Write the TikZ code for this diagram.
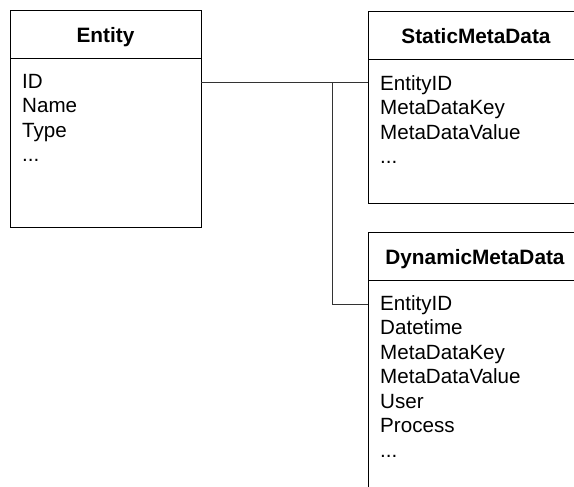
\documentclass[tikz,border=0pt]{standalone}
\usepackage{fontspec}
\setmainfont{Liberation Sans}
\usetikzlibrary{positioning}

\begin{document}
\begin{tikzpicture}[x=1pt, y=-1pt,
        headbox/.style={draw, line width=1pt, outer sep=0pt, inner sep=0pt, minimum height=48pt,
            font=\fontsize{20.8}{24.5}\selectfont\bfseries, text height=16pt, text depth=0pt},
        bodybox/.style={draw, line width=1pt, outer sep=0pt, inner sep=0pt},
        fields/.style={align=left, inner sep=0pt, font=\fontsize{20.6}{24.5}\selectfont},
        link/.style={draw=black!80, line width=1pt}]
    \useasboundingbox (0,0) rectangle (574,487);
    \clip (0,0) rectangle (574,487);

    %Nodes
    \node[headbox, minimum width=191pt, anchor=north west] (entity) at (10,11) {Entity};
    \node[bodybox, minimum width=191pt, minimum height=168pt, below=0pt of entity] (entityBody) {};
    \node[fields, anchor=north west] (entityFields) at (22,74) {ID\\Name\\Type\\...};

    \node[headbox, minimum width=216pt, anchor=north west] (static) at (368,12) {StaticMetaData};
    \node[bodybox, minimum width=216pt, minimum height=143pt, below=0pt of static] (staticBody) {};
    \node[fields, anchor=north west] (staticFields) at (380,75) {EntityID\\MetaDataKey\\MetaDataValue\\...};

    \node[headbox, minimum width=214pt, anchor=north west] (dynamic) at (368,232) {DynamicMetaData};
    \node[bodybox, minimum width=214pt, minimum height=220pt, below=0pt of dynamic] (dynamicBody) {};
    \node[fields, anchor=north west] (dynamicFields) at (380,295) {EntityID\\Datetime\\MetaDataKey\\MetaDataValue\\User\\Process\\...};

    \coordinate (entityKey) at (entityBody.east |- 0,83);
    \coordinate (staticKey) at (staticBody.west |- 0,83);
    \coordinate (split) at (332,83);
    \coordinate (dynamicKey) at (dynamicBody.west |- 0,304);

    %Lines
    \draw[link] (entityKey) -- (staticKey);
    \draw[link] (split) |- (dynamicKey);
\end{tikzpicture}
\end{document}
